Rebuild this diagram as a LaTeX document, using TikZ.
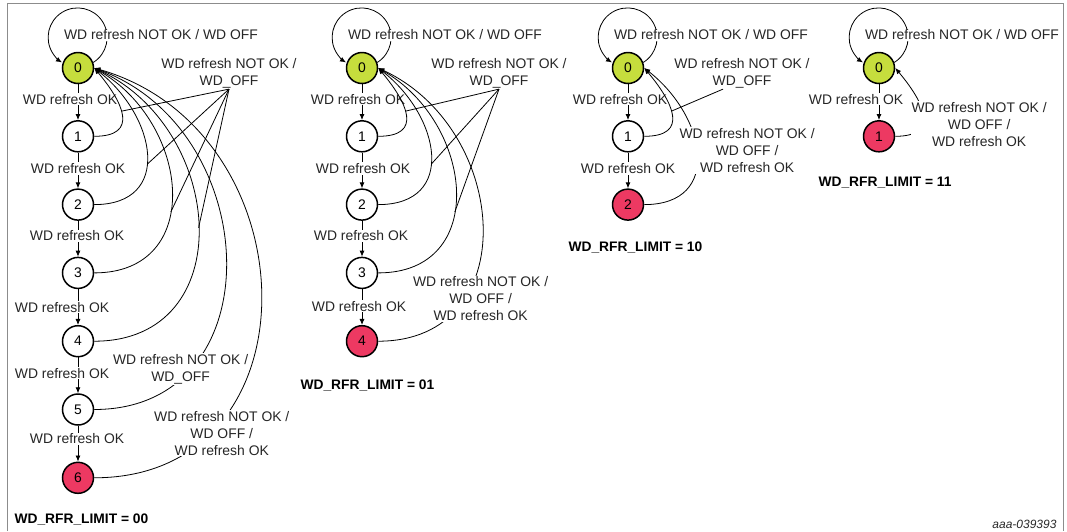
\documentclass[tikz,border=0pt]{standalone}
\usepackage{fontspec}
\setmainfont{Liberation Sans}
\usetikzlibrary{arrows.meta, positioning}
\definecolor{etatvert}{HTML}{C6DD3D}
\definecolor{etatrouge}{HTML}{ED3962}
\definecolor{textegris}{HTML}{262626}
\definecolor{cadregris}{HTML}{8C8C8C}

\tikzset{
  etat/.style={circle, draw, line width=1.5pt, minimum size=31pt, inner sep=0pt},
  trans/.style={-{Latex[length=6pt,width=5pt]}, line width=0.8pt},
  renvoi/.style={line width=0.8pt},
  lbl/.style={fill=white, inner sep=1pt, align=center, text=textegris},
  titre/.style={anchor=west, font=\fontsize{13.8}{16}\selectfont\bfseries},
}

\begin{document}
\begin{tikzpicture}[x=1pt, y=1pt, every node/.style={font=\fontsize{13.9}{17}\selectfont}]

  % Cadre
  \useasboundingbox (0,0) rectangle (1067,-531);
  \draw[cadregris, line width=0.8pt] (7.5,-531) -- (7.5,-3) -- (1063.5,-3) -- (1063.5,-531);

  % WD_RFR_LIMIT = 00
  \node[etat, fill=etatvert] (a0) at (78,-68) {0};
  \foreach \k in {1,...,5}
    \node[etat] (a\k) at (78,{-68-68.3*\k}) {\k};
  \node[etat, fill=etatrouge] (a6) at (78,{-68-68.3*6}) {6};

  \foreach \i/\j/\dx/\dy in {0/1/-8/3, 1/2/0/2, 2/3/-1/3, 3/4/-16/0, 4/5/-16/2, 5/6/-1/5}
    \draw[trans] (a\i) -- node[lbl, xshift=\dx, yshift=\dy] (ok-a\j) {WD refresh OK} (a\j);

  \draw[trans] (a0.20) arc[start angle=-58, end angle=238, radius=29.5];
  \node[lbl] (boucle-a) at (161,-35) {WD refresh NOT OK / WD OFF};

  \foreach \k/\ang/\lo/\p in {1/-50/1.70/0.55, 2/-38/1.48/0.44, 3/-30/1.39/0.42, 4/-25/1.37/0.5}
    \draw[trans] (a\k.east) to[out=0, in=\ang, looseness=\lo] coordinate[pos=\p] (ra\k) (a0.east);
  \draw[trans] (a5.east) to[out=0, in=-20, looseness=1.36]
    node[lbl, pos=0.25, xshift=-14, yshift=-4] (nok-a5) {WD refresh NOT OK /\\WD\_OFF} (a0.east);
  \draw[trans] (a6.east) to[out=0, in=-16, looseness=1.42]
    node[lbl, pos=0.23, xshift=8, yshift=-3] (fin-a) {WD refresh NOT OK /\\WD OFF /\\WD refresh OK} (a0.east);

  \node[lbl] (nok-a) at (229,-73) {WD refresh NOT OK /\\WD\_OFF};
  \foreach \k in {1,...,4}
    \draw[renvoi] (nok-a.south) -- (ra\k);

  \node[titre] (lim-a) at (11,-520) {WD\_RFR\_LIMIT = 00};

  % WD_RFR_LIMIT = 01
  \node[etat, fill=etatvert] (b0) at (362,-68) {0};
  \foreach \k in {1,...,3}
    \node[etat] (b\k) at (362,{-68-68.3*\k}) {\k};
  \node[etat, fill=etatrouge] (b4) at (362,{-68-68.3*4}) {4};

  \foreach \i/\j/\dx/\dy in {0/1/-4/3, 1/2/1/2, 2/3/-1/3, 3/4/-3/1}
    \draw[trans] (b\i) -- node[lbl, xshift=\dx, yshift=\dy] (ok-b\j) {WD refresh OK} (b\j);

  \draw[trans] (b0.20) arc[start angle=-58, end angle=238, radius=29.5];
  \node[lbl] (boucle-b) at (445,-35) {WD refresh NOT OK / WD OFF};

  \foreach \k/\ang/\lo/\p in {1/-50/1.70/0.55, 2/-38/1.48/0.44, 3/-30/1.39/0.42}
    \draw[trans] (b\k.east) to[out=0, in=\ang, looseness=\lo] coordinate[pos=\p] (rb\k) (b0.east);
  \draw[trans] (b4.east) to[out=0, in=-25, looseness=1.37]
    node[lbl, pos=0.3, xshift=13, yshift=-5] (fin-b) {WD refresh NOT OK /\\WD OFF /\\WD refresh OK} (b0.east);

  \node[lbl] (nok-b) at (499,-73) {WD refresh NOT OK /\\WD\_OFF};
  \foreach \k in {1,...,3}
    \draw[renvoi] (nok-b.south) -- (rb\k);

  \node[titre] (lim-b) at (297,-386) {WD\_RFR\_LIMIT = 01};

  % WD_RFR_LIMIT = 10
  \node[etat, fill=etatvert] (c0) at (628,-68) {0};
  \node[etat] (c1) at (628,{-68-68.3}) {1};
  \node[etat, fill=etatrouge] (c2) at (628,{-68-68.3*2}) {2};

  \foreach \i/\j/\dx/\dy in {0/1/-8/3, 1/2/0/2}
    \draw[trans] (c\i) -- node[lbl, xshift=\dx, yshift=\dy] (ok-c\j) {WD refresh OK} (c\j);

  \draw[trans] (c0.20) arc[start angle=-58, end angle=238, radius=29.5];
  \node[lbl] (boucle-c) at (711,-35) {WD refresh NOT OK / WD OFF};

  \draw[trans] (c1.east) to[out=0, in=-50, looseness=1.70] coordinate[pos=0.55] (rc1) (c0.east);
  \draw[trans] (c2.east) to[out=0, in=-38, looseness=1.48]
    node[lbl, pos=0.5, xshift=50, yshift=4] (fin-c) {WD refresh NOT OK /\\WD OFF /\\WD refresh OK} (c0.east);

  \node[lbl] (nok-c) at (742,-73) {WD refresh NOT OK /\\WD\_OFF};
  \draw[renvoi] ([xshift=-19pt]nok-c.south) -- (rc1);

  \node[titre] (lim-c) at (565,-248) {WD\_RFR\_LIMIT = 10};

  % WD_RFR_LIMIT = 11
  \node[etat, fill=etatvert] (d0) at (879,-68) {0};
  \node[etat, fill=etatrouge] (d1) at (879,{-68-68.3}) {1};

  \draw[trans] (d0) -- node[lbl, xshift=-23, yshift=3] (ok-d1) {WD refresh OK} (d1);

  \draw[trans] (d0.20) arc[start angle=-58, end angle=238, radius=29.5];
  \node[lbl] (boucle-d) at (962,-35) {WD refresh NOT OK / WD OFF};

  \draw[trans] (d1.east) to[out=0, in=-50, looseness=1.70]
    node[lbl, pos=0.5, xshift=56, yshift=-9] (fin-d) {WD refresh NOT OK /\\WD OFF /\\WD refresh OK} (d0.east);

  \node[titre] (lim-d) at (815,-183) {WD\_RFR\_LIMIT = 11};

  % Reference
  \node[anchor=east, font=\fontsize{12}{14}\selectfont\itshape, text=textegris] (ref) at (1060,-524) {aaa-039393};

\end{tikzpicture}
\end{document}
